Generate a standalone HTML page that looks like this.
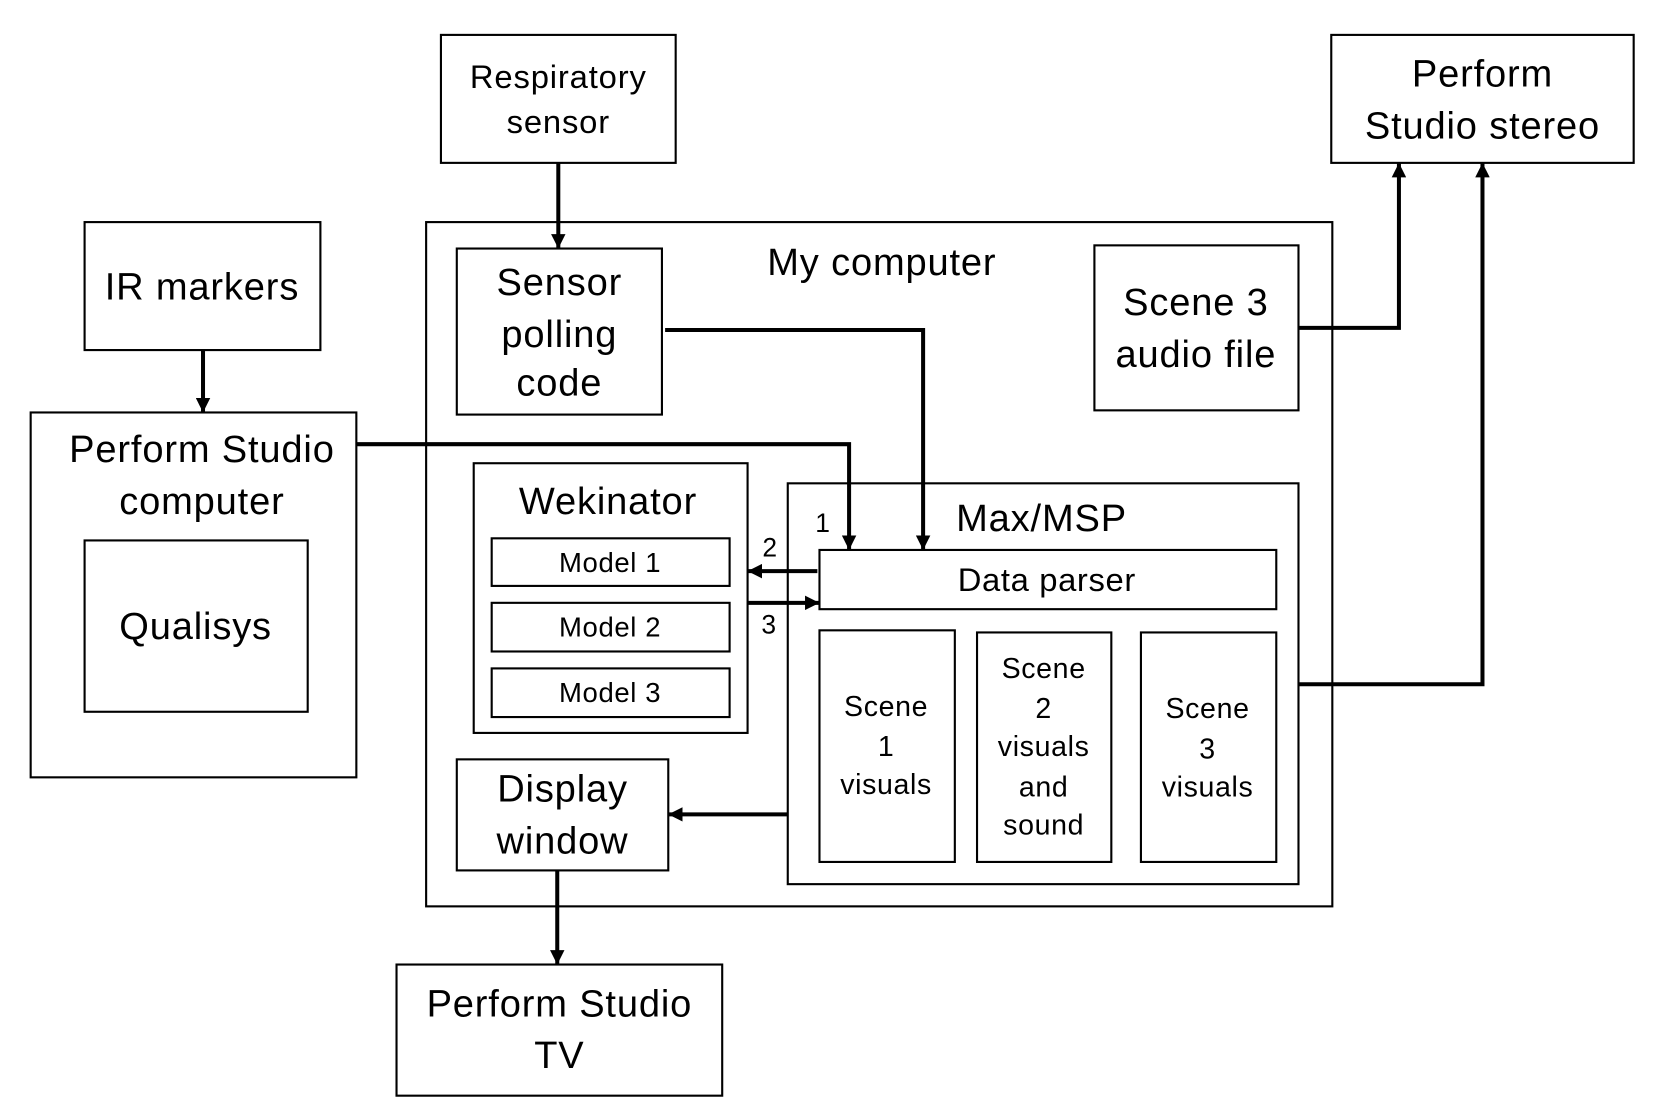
<!DOCTYPE html>
<html><head><meta charset="utf-8"><style>
html,body{margin:0;padding:0;background:#fff;}
svg{display:block;}
text{font-family:"Liberation Sans",sans-serif;fill:#000;text-anchor:middle;}
</style></head><body>
<svg width="1658" height="1120" viewBox="0 0 1568 1059" preserveAspectRatio="none" xmlns="http://www.w3.org/2000/svg">
<defs>
<marker id="a" viewBox="0 0 10 10" refX="10" refY="5" markerWidth="3.6" markerHeight="3.6" orient="auto" markerUnits="strokeWidth"><path d="M0,0 L10,5 L0,10 z" fill="#000"/></marker>
</defs>
<g fill="none" stroke="#000" stroke-width="2">
<rect x="417" y="33" width="222" height="121"/>
<rect x="1259" y="33" width="286" height="121"/>
<rect x="80" y="210" width="223" height="121"/>
<rect x="29" y="390" width="308" height="345"/>
<rect x="80" y="511" width="211" height="162"/>
<rect x="403" y="210" width="857" height="647"/>
<rect x="432" y="235" width="194" height="157"/>
<rect x="1035" y="232" width="193" height="156"/>
<rect x="448" y="438" width="259" height="255"/>
<rect x="465" y="509" width="225" height="45"/>
<rect x="465" y="570" width="225" height="46"/>
<rect x="465" y="632" width="225" height="46"/>
<rect x="745" y="457" width="483" height="379"/>
<rect x="775" y="520" width="432" height="56"/>
<rect x="775" y="596" width="128" height="219"/>
<rect x="924" y="598" width="127" height="217"/>
<rect x="1079" y="598" width="128" height="217"/>
<rect x="432" y="718" width="200" height="105"/>
<rect x="375" y="912" width="308" height="124"/>
</g>
<g fill="none" stroke="#000" stroke-width="3.8" marker-end="url(#a)">
<path d="M528,154 V235"/>
<path d="M192,331 V390"/>
<path d="M337,420 H803 V520"/>
<path d="M629,312 H873 V520"/>
<path d="M773,540 H707"/>
<path d="M707,570 H775"/>
<path d="M745,770 H632"/>
<path d="M527,823 V912"/>
<path d="M1228,310 H1323 V154"/>
<path d="M1228,647 H1402 V154"/>
</g>
<g font-size="31" letter-spacing="0.8">
<text x="528" y="83">Respiratory</text>
<text x="528" y="126">sensor</text>
</g>
<g font-size="36" letter-spacing="0.8">
<text x="1402" y="82">Perform</text>
<text x="1402" y="131">Studio stereo</text>
<text x="191" y="283">IR markers</text>
<text x="191" y="437">Perform Studio</text>
<text x="191" y="486">computer</text>
<text x="185" y="604">Qualisys</text>
<text x="834" y="260">My computer</text>
<text x="529" y="279">Sensor</text>
<text x="529" y="328">polling</text>
<text x="529" y="374">code</text>
<text x="1131" y="298">Scene 3</text>
<text x="1131" y="347">audio file</text>
<text x="575" y="486">Wekinator</text>
<text x="985" y="502">Max/MSP</text>
<text x="532" y="758">Display</text>
<text x="532" y="807">window</text>
<text x="529" y="961">Perform Studio</text>
<text x="529" y="1010">TV</text>
</g>
<g font-size="31" letter-spacing="0.6"><text x="990" y="559">Data parser</text></g>
<g font-size="26" letter-spacing="0.6">
<text x="577" y="541">Model 1</text>
<text x="577" y="602">Model 2</text>
<text x="577" y="664">Model 3</text>
</g>
<g font-size="27" letter-spacing="0.6">
<text x="838" y="677">Scene</text>
<text x="838" y="715">1</text>
<text x="838" y="751">visuals</text>
<text x="987" y="641">Scene</text>
<text x="987" y="679">2</text>
<text x="987" y="715">visuals</text>
<text x="987" y="753">and</text>
<text x="987" y="789">sound</text>
<text x="1142" y="679">Scene</text>
<text x="1142" y="717">3</text>
<text x="1142" y="753">visuals</text>
</g>
<g font-size="25">
<text x="778" y="503">1</text>
<text x="728" y="526">2</text>
<text x="727" y="599">3</text>
</g>
</svg>
</body></html>
